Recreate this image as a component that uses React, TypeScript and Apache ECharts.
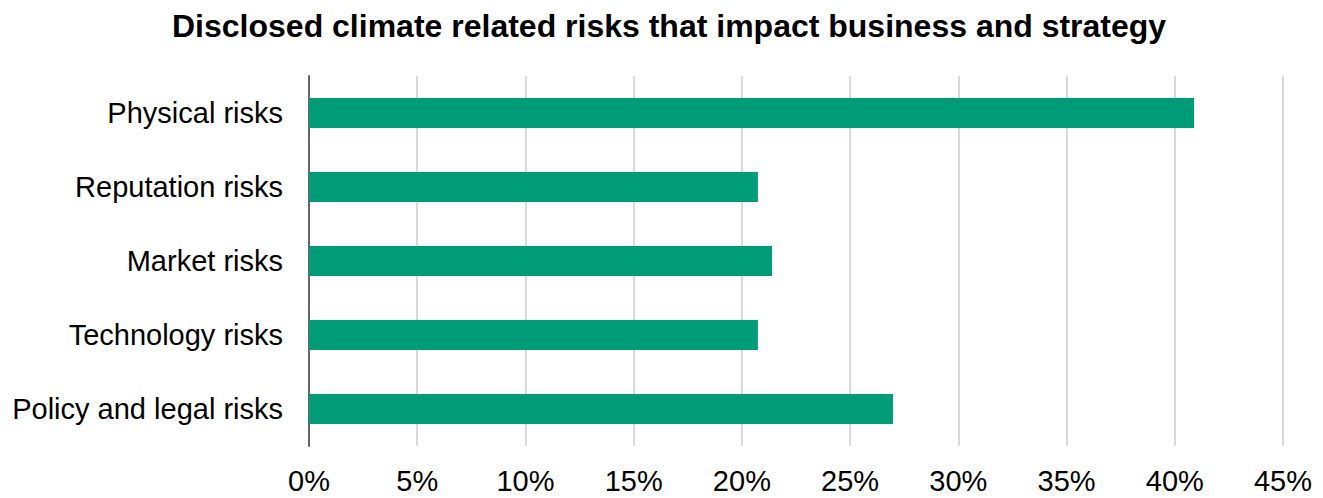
import React, { useEffect, useRef } from "react";
import * as echarts from "echarts";

const categories = [
  "Policy and legal risks",
  "Technology risks",
  "Market risks",
  "Reputation risks",
  "Physical risks",
];
const values = [26.98, 20.74, 21.39, 20.74, 40.89];
const titleText = "Disclosed climate related risks that impact business and strategy";

export default function App() {
  const ref = useRef<HTMLDivElement>(null);
  useEffect(() => {
    if (!ref.current) return;
    const chart = echarts.init(ref.current, undefined, { renderer: "svg" });
    chart.setOption({
      animation: false,
      backgroundColor: "#ffffff",
      title: {
        text: titleText,
        left: 167,
        top: 5,
        textStyle: {
          fontFamily: "Liberation Sans, Arial, sans-serif",
          fontSize: 32,
          fontWeight: "bold",
          color: "#000000",
        },
      },
      grid: { left: 309, right: 40, top: 76, bottom: 52, containLabel: false },
      xAxis: {
        type: "value",
        min: 0,
        max: 45,
        interval: 5,
        axisLine: { show: false },
        axisTick: { show: false },
        splitLine: { show: true, lineStyle: { color: "#d9d9d9", width: 2 } },
        axisLabel: {
          formatter: "{value}%",
          fontFamily: "Liberation Sans, Arial, sans-serif",
          fontSize: 29,
          color: "#000000",
          margin: 20,
        },
      },
      yAxis: {
        type: "category",
        data: categories,
        axisLine: { show: true, lineStyle: { color: "#666666", width: 2 } },
        axisTick: { show: false },
        axisLabel: {
          fontFamily: "Liberation Sans, Arial, sans-serif",
          fontSize: 29,
          color: "#000000",
          margin: 26,
        },
      },
      series: [
        {
          type: "bar",
          data: values,
          barWidth: 30,
          itemStyle: { color: "#009B77" },
          z: 1,
        },
      ],
    });
    return () => chart.dispose();
  }, []);
  return (
    <div
      ref={ref}
      style={{ position: "fixed", left: 0, top: 0, width: 1323, height: 498 }}
    />
  );
}
